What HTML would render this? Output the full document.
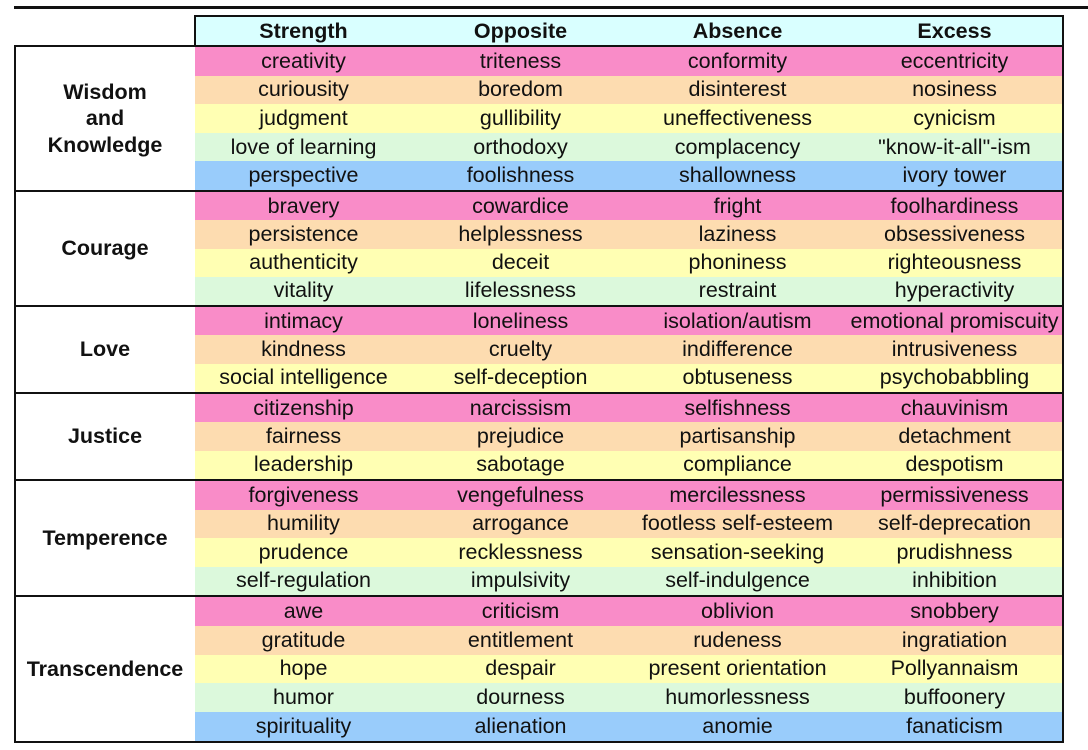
<!DOCTYPE html>
<html><head><meta charset="utf-8"><style>
body{margin:0;width:1088px;height:750px;background:#fff;position:relative;overflow:hidden;font-family:"Liberation Sans",Arial,sans-serif;}
.c{position:absolute;display:flex;align-items:center;justify-content:center;font-size:21.5px;color:#111;white-space:nowrap;}
.h{font-weight:bold;}
.ln{position:absolute;background:#111;}
</style></head><body>
<div class="ln" style="left:14px;top:6px;width:1074px;height:3px"></div>
<div id="t"></div>
<script>
const headers=["Strength","Opposite","Absence","Excess"];
const groups=["Wisdom<br>and<br>Knowledge","Courage","Love","Justice","Temperence","Transcendence"];
const rows=[
[["creativity","triteness","conformity","eccentricity",0],["curiousity","boredom","disinterest","nosiness",1],["judgment","gullibility","uneffectiveness","cynicism",2],["love of learning","orthodoxy","complacency","\"know-it-all\"-ism",3],["perspective","foolishness","shallowness","ivory tower",4]],
[["bravery","cowardice","fright","foolhardiness",0],["persistence","helplessness","laziness","obsessiveness",1],["authenticity","deceit","phoniness","righteousness",2],["vitality","lifelessness","restraint","hyperactivity",3]],
[["intimacy","loneliness","isolation/autism","emotional promiscuity",0],["kindness","cruelty","indifference","intrusiveness",1],["social intelligence","self-deception","obtuseness","psychobabbling",2]],
[["citizenship","narcissism","selfishness","chauvinism",0],["fairness","prejudice","partisanship","detachment",1],["leadership","sabotage","compliance","despotism",2]],
[["forgiveness","vengefulness","mercilessness","permissiveness",0],["humility","arrogance","footless self-esteem","self-deprecation",1],["prudence","recklessness","sensation-seeking","prudishness",2],["self-regulation","impulsivity","self-indulgence","inhibition",3]],
[["awe","criticism","oblivion","snobbery",0],["gratitude","entitlement","rudeness","ingratiation",1],["hope","despair","present orientation","Pollyannaism",2],["humor","dourness","humorlessness","buffoonery",3],["spirituality","alienation","anomie","fanaticism",4]]
];
const colors=["#f98cc8","#fddcb0","#ffffb3","#dcf9dc","#99ccfb"];
const bounds=[46,191,306,393,480,596,742];
const colX=[195,412,629,846,1063];
const T=document.getElementById('t');
function mk(cls,l,t,w,h,html,bg){const d=document.createElement('div');d.className=cls;d.style.cssText=`left:${l}px;top:${t}px;width:${w}px;height:${h}px;`+(bg?`background:${bg};`:'');if(html!==undefined)d.innerHTML=html;T.appendChild(d);return d;}
const hb=mk('c h',195,16,868,30,'', '#d9ffff');


headers.forEach((h,i)=>{const d=mk('c h',colX[i],16,colX[i+1]-colX[i],30,h);

});
groups.forEach((g,gi)=>{
 const top=bounds[gi]+1,bot=bounds[gi+1]-1,n=rows[gi].length,rh=(bot-top)/n;
 const lab=mk('c h',15,top,180,bot-top,g);lab.style.textAlign='center';lab.style.lineHeight='26.5px';
 
 
 rows[gi].forEach((r,ri)=>{
  const y=top+ri*rh;
  const bg=mk('c',195,y,868,rh+0.5,'',colors[r[4]]);
  
  
  for(let c=0;c<4;c++){const d=mk('c',colX[c],y,colX[c+1]-colX[c],rh,'');
   d.textContent=r[c];
   
   }
 });
});
function ln(l,t,w,h){const d=mk('ln',l,t,w,h);

}
ln(194,15,870,2);ln(194,15,2,32);ln(1062,15,2,32);
bounds.forEach((b)=>{ln(14,b-1,1050,2);});
ln(14,45,2,698);ln(1062,45,2,698);
</script>
</body></html>
